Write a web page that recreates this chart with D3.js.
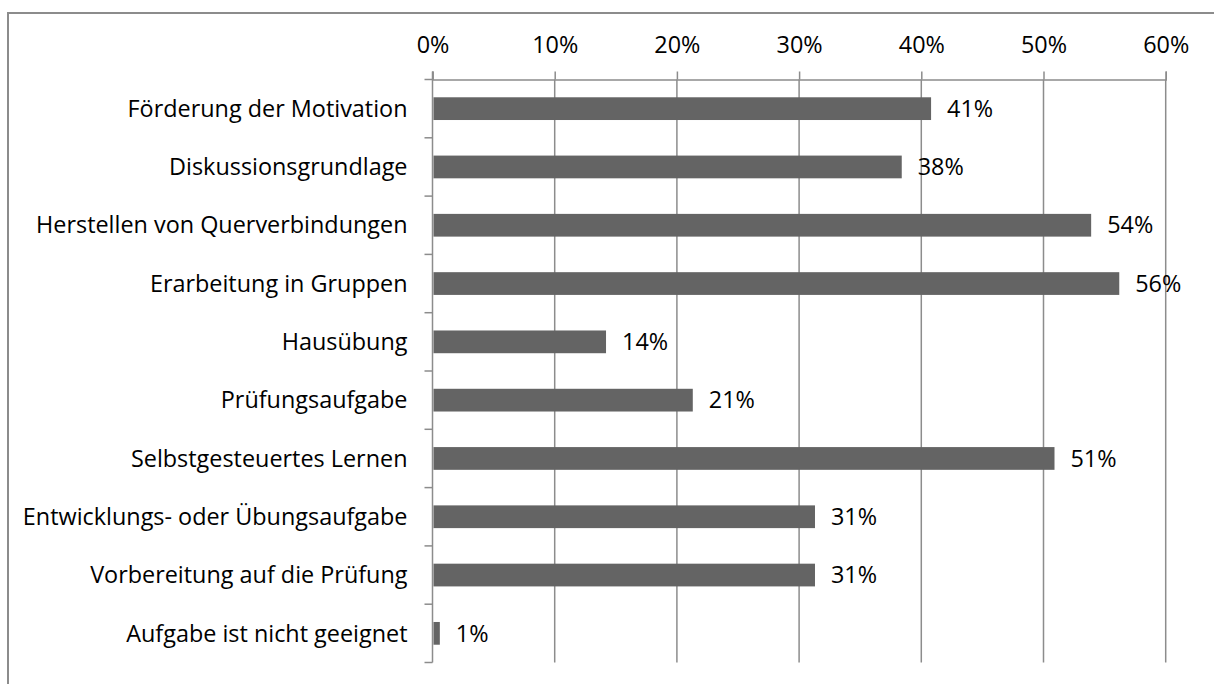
<!DOCTYPE html>
<html lang="de">
<head>
<meta charset="utf-8">
<title>Einsatz der Aufgabe</title>
<script src="https://cdn.jsdelivr.net/npm/d3@7"></script>
<style>
  body { margin: 0; background: #fff; }
  text { font-family: "Open Sans", "Noto Sans", sans-serif; fill: #000; }
  .grid line { stroke: #8c8c8c; stroke-width: 1.5px; }
</style>
</head>
<body>
<script>
var categories = ["Förderung der Motivation", "Diskussionsgrundlage", "Herstellen von Querverbindungen",
  "Erarbeitung in Gruppen", "Hausübung", "Prüfungsaufgabe", "Selbstgesteuertes Lernen",
  "Entwicklungs- oder Übungsaufgabe", "Vorbereitung auf die Prüfung", "Aufgabe ist nicht geeignet"];
var values = [40.8, 38.4, 53.9, 56.2, 14.2, 21.3, 50.9, 31.3, 31.3, 0.6];
var valueLabels = ["41%", "38%", "54%", "56%", "14%", "21%", "51%", "31%", "31%", "1%"];
var ticks = [0, 10, 20, 30, 40, 50, 60];

var w = 1214, h = 684;
var plotLeft = 432.5, plotRight = 1165.7, plotTop = 79.5, plotBottom = 662.5;
var fontSize = "23.4px";

var svg = d3.select("body").append("svg").attr("width", w).attr("height", h);

// outer frame (runs off the right and bottom of the picture)
svg.append("rect")
  .attr("x", 8).attr("y", 13)
  .attr("width", 1240).attr("height", 700)
  .attr("fill", "none").attr("stroke", "#8c8c8c").attr("stroke-width", 2);

var x = d3.scaleLinear().domain([0, 60]).range([plotLeft, plotRight]);
var y = d3.scaleBand().domain(categories).range([plotTop, plotBottom]).paddingInner(0.61).paddingOuter(0.305);

// gridlines
svg.append("g").attr("class", "grid")
  .selectAll("line").data(ticks.slice(1)).enter().append("line")
  .attr("x1", function(d){ return x(d); }).attr("x2", function(d){ return x(d); })
  .attr("y1", plotTop).attr("y2", plotBottom);

// top axis
var xAxis = d3.axisTop(x).tickValues(ticks).tickSize(8).tickPadding(19)
  .tickFormat(function(d){ return d + "%"; });
var gx = svg.append("g").attr("transform", "translate(0," + plotTop + ")").call(xAxis);
gx.select(".domain").attr("stroke", "#8c8c8c").attr("stroke-width", 1.5);
gx.selectAll(".tick line").attr("stroke", "#8c8c8c").attr("stroke-width", 1.5);
gx.selectAll("text").style("font-size", fontSize).style("font-family", "'Open Sans', sans-serif").attr("fill", "#000");

// left axis with ticks at category boundaries
var bounds = d3.range(categories.length + 1).map(function(i){ return plotTop + i * (plotBottom - plotTop) / categories.length; });
var ax = svg.append("g");
ax.append("line").attr("x1", plotLeft).attr("x2", plotLeft).attr("y1", plotTop - 8).attr("y2", plotBottom)
  .attr("stroke", "#8c8c8c").attr("stroke-width", 1.5);
ax.selectAll("line.tk").data(bounds).enter().append("line").attr("class", "tk")
  .attr("x1", plotLeft - 8).attr("x2", plotLeft)
  .attr("y1", function(d){ return d; }).attr("y2", function(d){ return d; })
  .attr("stroke", "#8c8c8c").attr("stroke-width", 1.5);

ax.selectAll("text").data(categories).enter().append("text")
  .attr("x", plotLeft - 25)
  .attr("y", function(d){ return y(d) + y.bandwidth() / 2; })
  .attr("dy", "0.35em")
  .attr("text-anchor", "end")
  .style("font-size", fontSize)
  .text(function(d){ return d; });

// bars
svg.append("g").selectAll("rect").data(values).enter().append("rect")
  .attr("x", x(0) + 1)
  .attr("y", function(d, i){ return y(categories[i]); })
  .attr("width", function(d){ return x(d) - x(0) - 1; })
  .attr("height", y.bandwidth())
  .attr("fill", "#646464");

// value labels
svg.append("g").selectAll("text").data(values).enter().append("text")
  .attr("x", function(d){ return x(d) + 16; })
  .attr("y", function(d, i){ return y(categories[i]) + y.bandwidth() / 2; })
  .attr("dy", "0.35em")
  .style("font-size", fontSize)
  .text(function(d, i){ return valueLabels[i]; });
</script>
</body>
</html>
